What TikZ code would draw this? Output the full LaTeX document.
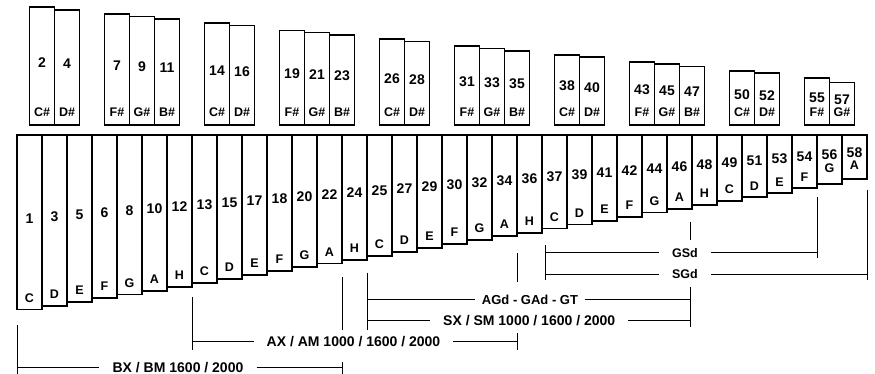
\documentclass[tikz,border=0pt]{standalone}
\usepackage{fontspec}
\setmainfont{Liberation Sans}
\begin{document}
\begin{tikzpicture}[x=1pt,y=-1pt,
  keybox/.style={draw=black, line width=1.6pt, fill=white, inner sep=0pt, outer sep=0pt, minimum width=25pt},
  numlab/.style={font=\bfseries\fontsize{14}{14}\selectfont, inner sep=0pt, text height=10pt, text depth=0pt},
  letlab/.style={font=\bfseries\fontsize{12.5}{12.5}\selectfont, inner sep=0pt, text height=9pt, text depth=0pt},
  rline/.style={line width=0.9pt},
  rlab/.style={font=\bfseries\fontsize{14}{14}\selectfont, inner ysep=0pt, inner xsep=13pt, text height=10pt, text depth=0pt},
  rlabs/.style={rlab, font=\bfseries\fontsize{12.5}{12.5}\selectfont, text height=9pt}]
\useasboundingbox (0,0) rectangle (875,374);

% white bars
\foreach \n/\l/\i/\b in {1/C/0/309.3, 3/D/1/306, 5/E/2/302, 6/F/3/298, 8/G/4/294.3, 10/A/5/290.7, 12/H/6/286.7,
  13/C/7/283, 15/D/8/279, 17/E/9/275, 18/F/10/271, 20/G/11/266.7, 22/A/12/263.3, 24/H/13/260,
  25/C/14/255.7, 27/D/15/251.7, 29/E/16/247.7, 30/F/17/244, 32/G/18/240, 34/A/19/236, 36/H/20/232.7,
  37/C/21/228.3, 39/D/22/224.5, 41/E/23/221, 42/F/24/216.7, 44/G/25/212.7, 46/A/26/209, 48/H/27/205,
  49/C/28/201, 51/D/29/197.3, 53/E/30/193.3, 54/F/31/188.3, 56/G/32/184, 58/A/33/179.3} {
  \pgfmathsetmacro{\xx}{17+25*\i+12.5}
  \pgfmathsetmacro{\hh}{\b-135}
  \pgfmathsetmacro{\ny}{218-1.97*\i}
  \pgfmathsetmacro{\ly}{\i==32 ? 168.3 : (\i==33 ? 165 : \b-11.7)}
  \node[keybox, minimum height=\hh pt, anchor=north] (w\n) at (\xx,135) {};
  \node[numlab] (wn\n) at (\xx,\ny) {\n};
  \node[letlab] (wl\n) at (\xx,\ly) {\l};
}

% sharp bars
\foreach \n/\l/\c/\t in {2/C\#/42/7.3, 4/D\#/67/10, 7/F\#/117/14.3, 9/G\#/142/16.7, 11/B\#/167/19,
  14/C\#/217/23.3, 16/D\#/242/25.7, 19/F\#/292/30.7, 21/G\#/317/32.7, 23/B\#/342/35,
  26/C\#/392/39.3, 28/D\#/417/41.7, 31/F\#/467/46, 33/G\#/492/48.7, 35/B\#/517/51,
  38/C\#/567/55, 40/D\#/592/57.3, 43/F\#/642/62, 45/G\#/667/64.3, 47/B\#/692/66.7,
  50/C\#/742/71.3, 52/D\#/767/73.3, 55/F\#/817/78, 57/G\#/842/82.5} {
  \pgfmathsetmacro{\hh}{125-\t}
  \pgfmathsetmacro{\ny}{(\t+125)/2-4}
  \node[keybox, minimum height=\hh pt, anchor=north] (s\n) at (\c,\t) {};
  \node[numlab] (sn\n) at (\c,\ny) {\n};
  \node[letlab] (sl\n) at (\c,112) {\l};
}

% range labels
\node[rlab] (bx) at (178,367.3) {BX / BM 1600 / 2000};
\node[rlab] (ax) at (353.5,341) {AX / AM 1000 / 1600 / 2000};
\node[rlab, font=\bfseries\fontsize{13}{13}\selectfont, inner xsep=6.5pt] (ag) at (530,299.3) {AGd - GAd - GT};
\node[rlab] (sx) at (529.2,320.7) {SX / SM 1000 / 1600 / 2000};
\node[rlabs] (gs) at (685,252.7) {GSd};
\node[rlabs] (sg) at (685,274.3) {SGd};

% range end points
\coordinate (bxL) at (17,367.3);   \coordinate (bxR) at (342.5,367.3);
\coordinate (axL) at (192.3,341);  \coordinate (axR) at (517,341);
\coordinate (agL) at (367,299.3);  \coordinate (agR) at (690.7,299.3);
\coordinate (sxL) at (367,320.7);  \coordinate (sxR) at (690.7,320.7);
\coordinate (gsL) at (545.7,252.7); \coordinate (gsR) at (817.3,252.7);
\coordinate (sgL) at (545.7,274.3); \coordinate (sgR) at (867.3,274.3);

\begin{scope}[rline]
\draw (bxL) -- (bx.west); \draw (bx.east) -- (bxR);
\draw (axL) -- (ax.west); \draw (ax.east) -- (axR);
\draw (agL) -- (ag.west); \draw (ag.east) -- (agR);
\draw (sxL) -- (sx.west); \draw (sx.east) -- (sxR);
\draw (gsL) -- (gs.west); \draw (gs.east) -- (gsR);
\draw (sgL) -- (sg.west); \draw (sg.east) -- (sgR);
% end ticks
\draw (17,325) -- (17,374);
\draw (342.5,277) -- (342.5,330);
\draw (342.5,362) -- (342.5,374);
\draw (192.3,297) -- (192.3,350);
\draw (517,253) -- (517,281.7);
\draw (517,333) -- (517,350);
\draw (367,272.7) -- (367,330);
\draw (690.7,221.7) -- (690.7,240);
\draw (690.7,286.7) -- (690.7,326.7);
\draw (545.7,245) -- (545.7,280);
\draw (817.3,196.7) -- (817.3,257.7);
\draw (867.3,190) -- (867.3,280);
\end{scope}
\end{tikzpicture}
\end{document}
